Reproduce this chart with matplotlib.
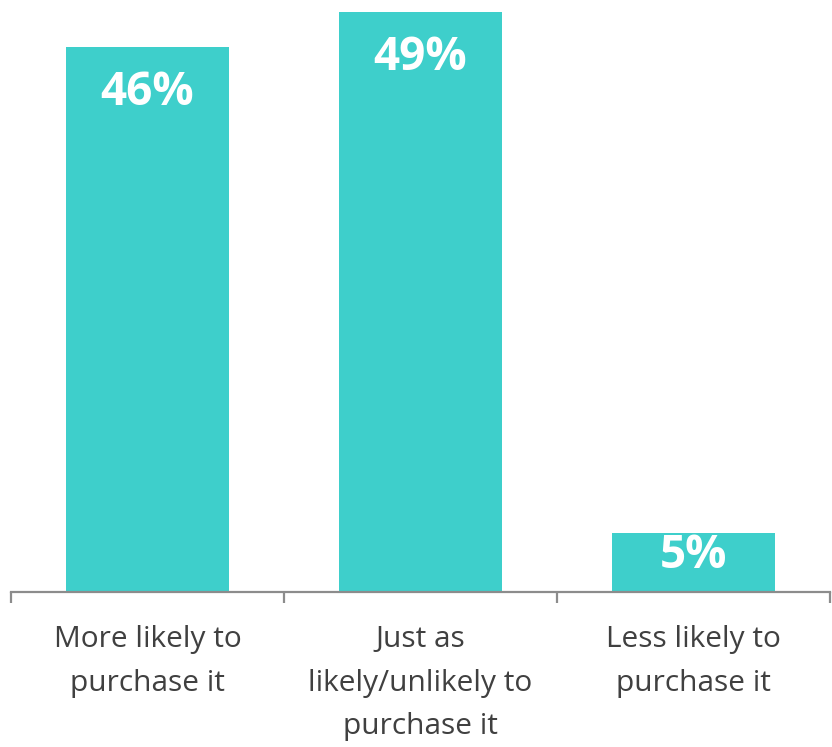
import matplotlib
matplotlib.use("Agg")
import matplotlib.pyplot as plt
from matplotlib.ticker import FixedLocator, NullFormatter

categories = ["More likely to\npurchase it", "Just as\nlikely/unlikely to\npurchase it", "Less likely to\npurchase it"]
values = [46, 49, 5]
value_labels = ["46%", "49%", "5%"]

BAR_COLOR = "#3ECFCB"
AXIS_COLOR = "#8C8C8C"
TEXT_COLOR = "#404040"

plt.rcParams["font.family"] = ["Open Sans", "DejaVu Sans"]

fig = plt.figure(figsize=(8.32, 7.47), dpi=100)
ax = fig.add_axes([11 / 832, 1 - 592 / 747, 819 / 832, 592 / 747])

x = list(range(len(categories)))
bars = ax.bar(x, values, width=0.595, color=BAR_COLOR, zorder=2)

ax.set_xlim(-0.5, len(categories) - 0.5)
ax.set_ylim(0, 50)

for b, v, lab in zip(bars, values, value_labels):
    y = max(v - 3.85, v * 0.62)
    ax.text(b.get_x() + b.get_width() / 2, y, lab, ha="center", va="center",
            color="white", fontsize=33, fontweight="bold")

for s in ("top", "right", "left"):
    ax.spines[s].set_visible(False)
ax.spines["bottom"].set_color(AXIS_COLOR)
ax.spines["bottom"].set_linewidth(1.6)
ax.set_yticks([])

# category boundaries carry the tick marks; labels sit at the centres
ax.xaxis.set_major_locator(FixedLocator([-0.5, 0.5, 1.5, 2.5]))
ax.xaxis.set_major_formatter(NullFormatter())
ax.xaxis.set_minor_locator(FixedLocator(x))
ax.set_xticklabels(categories, minor=True, fontsize=21.5, color=TEXT_COLOR, linespacing=1.66)
ax.tick_params(axis="x", which="major", length=8, width=1.6, color=AXIS_COLOR)
ax.tick_params(axis="x", which="minor", length=0, pad=24)

fig.savefig("out.png", dpi=100)
